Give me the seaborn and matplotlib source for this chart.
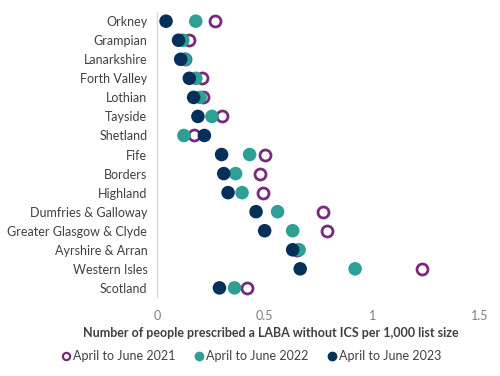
import matplotlib
matplotlib.use("Agg")
import matplotlib.pyplot as plt
from matplotlib.lines import Line2D
import seaborn as sns
import pandas as pd

regions = ["Orkney", "Grampian", "Lanarkshire", "Forth Valley", "Lothian", "Tayside",
           "Shetland", "Fife", "Borders", "Highland", "Dumfries & Galloway",
           "Greater Glasgow & Clyde", "Ayrshire & Arran", "Western Isles", "Scotland"]
v2021 = [0.27, 0.15, 0.13, 0.21, 0.215, 0.30, 0.17, 0.50, 0.48, 0.49, 0.77, 0.79, 0.65, 1.23, 0.42]
v2022 = [0.18, 0.12, 0.13, 0.18, 0.20, 0.255, 0.125, 0.43, 0.365, 0.395, 0.56, 0.63, 0.66, 0.92, 0.36]
v2023 = [0.042, 0.10, 0.11, 0.15, 0.17, 0.19, 0.22, 0.30, 0.31, 0.33, 0.46, 0.50, 0.63, 0.665, 0.29]
series_names = ["April to June 2021", "April to June 2022", "April to June 2023"]
xticks = [0, 0.5, 1, 1.5]
xtick_labels = ["0", "0.5", "1", "1.5"]

sns.set_theme(style="white")
plt.rcParams['font.family'] = ['Lato', 'DejaVu Sans']

c21 = "#792A7D"
c22 = "#2CA095"
c23 = "#062F5A"

df = pd.DataFrame({"region": regions, "y2021": v2021, "y2022": v2022, "y2023": v2023})

fig = plt.figure(figsize=(5, 3.76), dpi=100)
ax = fig.add_axes([0.314, 0.209, 0.646, 0.760])

ms = 95
sns.scatterplot(data=df, x="y2021", y="region", ax=ax, s=ms * 0.66, marker="o",
                facecolor="white", edgecolor=c21, linewidth=2.0, zorder=2)
sns.scatterplot(data=df, x="y2022", y="region", ax=ax, s=ms, marker="o",
                color=c22, edgecolor="none", linewidth=0, zorder=3)
sns.scatterplot(data=df, x="y2023", y="region", ax=ax, s=ms, marker="o",
                color=c23, edgecolor="none", linewidth=0, zorder=4)

ax.set_xlim(0, 1.5)
ax.set_ylim(len(regions) - 0.5, -0.5)
ax.set_xticks(xticks)
ax.set_xticklabels(xtick_labels)
ax.tick_params(axis="x", labelsize=9, length=0, pad=9)
ax.tick_params(axis="y", labelsize=9, length=0, pad=7)
for lab in ax.get_xticklabels():
    lab.set_color("#7f7f7f")
for lab in ax.get_yticklabels():
    lab.set_color("#404040")
ax.set_xlabel("")
ax.set_ylabel("")
for s in ["top", "right", "bottom"]:
    ax.spines[s].set_visible(False)
ax.spines["left"].set_color("#d9d9d9")
ax.spines["left"].set_linewidth(1.0)
ax.grid(False)

fig.text(0.542, 0.114, "Number of people prescribed a LABA without ICS per 1,000 list size",
         ha="center", va="center", fontsize=9, fontweight="bold", color="#404040")

handles = [
    Line2D([], [], marker="o", linestyle="none", markerfacecolor="white",
           markeredgecolor=c21, markeredgewidth=1.6, markersize=5.2),
    Line2D([], [], marker="o", linestyle="none", markerfacecolor=c22,
           markeredgecolor=c22, markersize=6),
    Line2D([], [], marker="o", linestyle="none", markerfacecolor=c23,
           markeredgecolor=c23, markersize=6),
]
leg = fig.legend(handles, series_names, loc="center", bbox_to_anchor=(0.502, 0.053),
                 ncol=3, frameon=False, fontsize=9, handletextpad=0.15,
                 columnspacing=1.5, handlelength=0.8)
for t in leg.get_texts():
    t.set_color("#404040")

fig.savefig("out.png", dpi=100)
